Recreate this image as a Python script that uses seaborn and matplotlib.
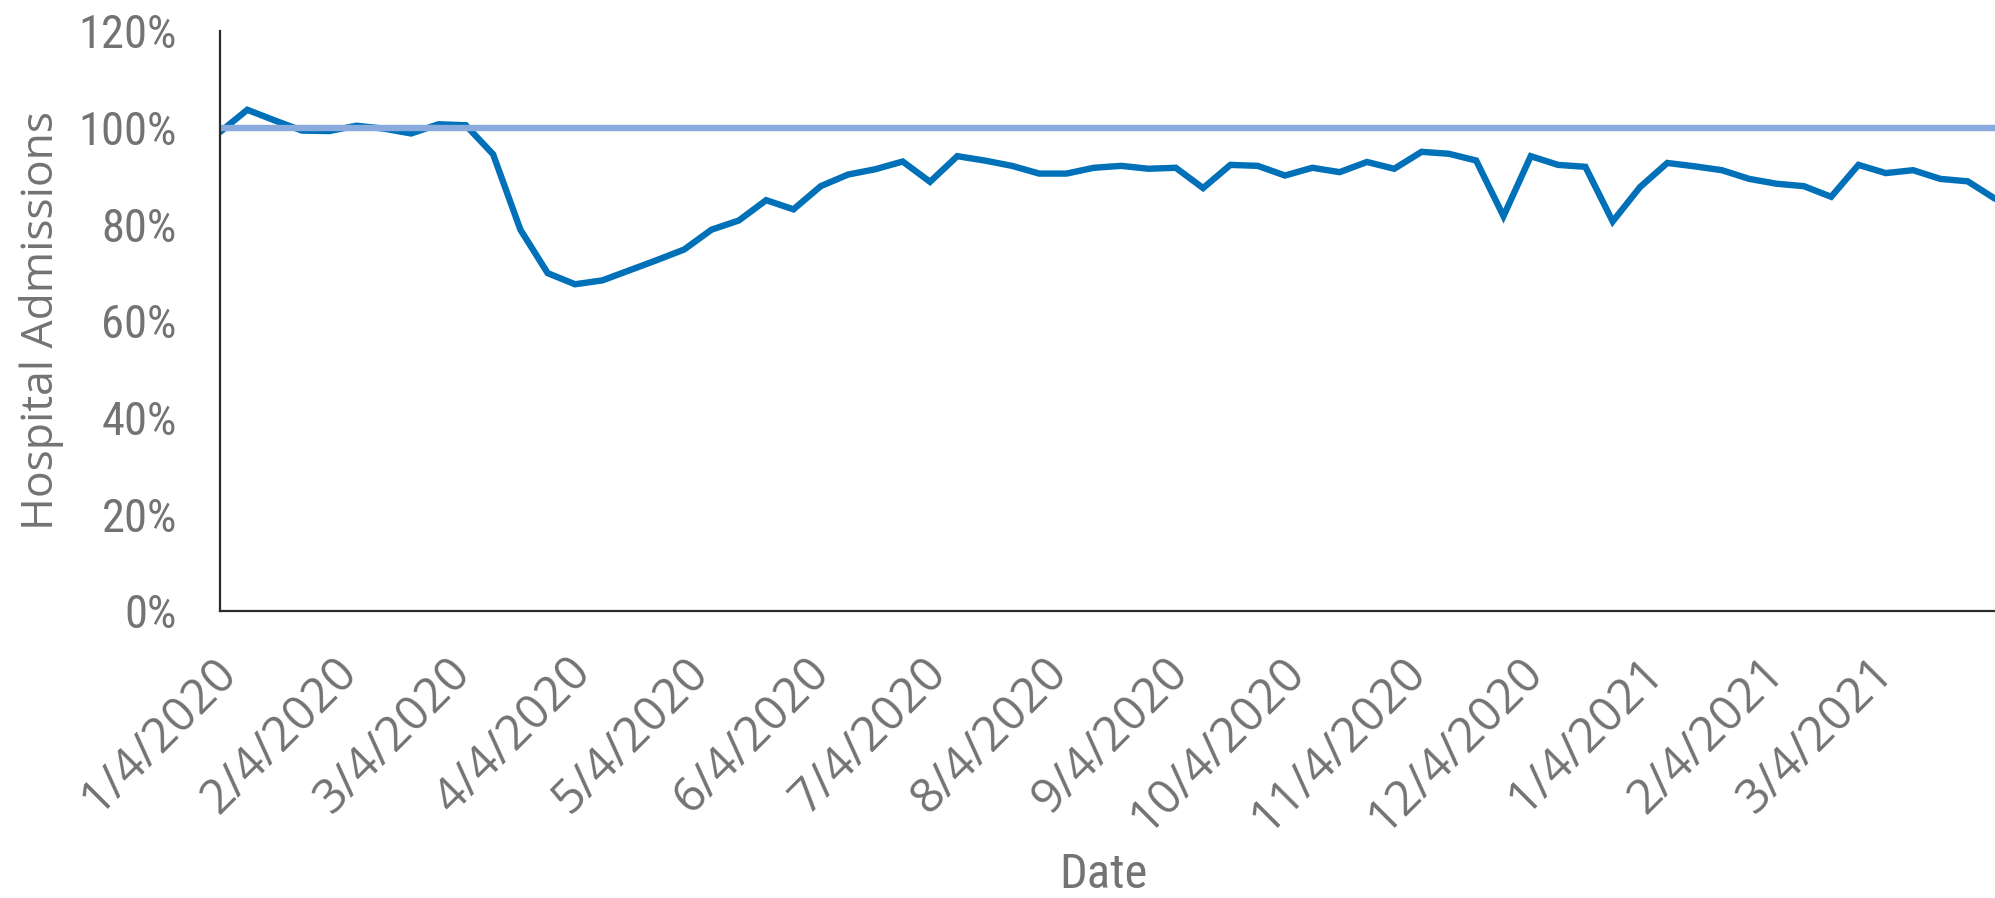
import matplotlib
matplotlib.use("Agg")
import matplotlib.pyplot as plt
from matplotlib import font_manager
from matplotlib.transforms import ScaledTranslation
import pandas as pd
import seaborn as sns

# Weekly hospital admissions relative to the pre-pandemic baseline (%)
week_start = "2020-01-04"
admissions_pct = [
    99.1, 103.7, 101.5, 99.4, 99.3, 100.4, 99.8, 98.8, 100.7, 100.5,
    94.5, 78.9, 69.9, 67.6, 68.4, 70.5, 72.6, 74.8, 78.9, 80.8,
    85.0, 83.1, 87.9, 90.3, 91.4, 93.0, 88.8, 94.1, 93.2, 92.1,
    90.5, 90.5, 91.7, 92.1, 91.5, 91.7, 87.5, 92.3, 92.1, 90.1,
    91.7, 90.8, 92.9, 91.5, 95.0, 94.6, 93.2, 81.7, 94.1, 92.3,
    91.9, 80.6, 87.7, 92.7, 92.0, 91.2, 89.4, 88.4, 87.9, 85.7,
    92.3, 90.6, 91.2, 89.4, 88.9, 85.3,
]
baseline_pct = 100
y_ticks = [0, 20, 40, 60, 80, 100, 120]
tick_dates = [
    "2020-01-04", "2020-02-04", "2020-03-04", "2020-04-04", "2020-05-04",
    "2020-06-04", "2020-07-04", "2020-08-04", "2020-09-04", "2020-10-04",
    "2020-11-04", "2020-12-04", "2021-01-04", "2021-02-04", "2021-03-04",
]
x_title = "Date"
y_title = "Hospital Admissions"

dates = pd.date_range(week_start, periods=len(admissions_pct), freq="7D")
df = pd.DataFrame({
    "date": dates,
    "admissions": admissions_pct,
    "baseline": [baseline_pct] * len(admissions_pct),
})

sns.set_theme(style="white")
plt.rcParams["font.family"] = ["Open Sans", "DejaVu Sans"]

TEXT = "#737373"

# Prefer a narrow face for the horizontal labels when one is installed
installed = {f.name for f in font_manager.fontManager.ttflist}
narrow_face = None
for cand in ("Liberation Sans Narrow", "Roboto Condensed", "DejaVu Sans Condensed",
             "Open Sans Condensed", "Noto Sans Condensed"):
    if cand in installed:
        narrow_face = cand
        break
narrow_stretch = "normal"
if narrow_face is None:
    for f in font_manager.fontManager.ttflist:
        if f.stretch in ("condensed", "semi-condensed") and f.style == "normal" \
                and f.weight in (400, "normal", "regular"):
            narrow_face = f.name
            narrow_stretch = f.stretch
            break
narrow = [narrow_face, "Open Sans", "DejaVu Sans"] if narrow_face else ["Open Sans", "DejaVu Sans"]
ytick_size = 33.5 if narrow_face else 29

fig = plt.figure(figsize=(19.95, 8.98), dpi=100)
ax = fig.add_axes([220 / 1995, 287 / 898, 1775 / 1995, 580 / 898])

sns.lineplot(data=df, x="date", y="admissions", ax=ax, color="#0070B8",
             linewidth=4.6, solid_joinstyle="miter", zorder=3)
sns.lineplot(data=df, x="date", y="baseline", ax=ax, color="#88AADC",
             linewidth=4.6, zorder=4)

ax.set_xlim(dates[0], dates[-1])
ax.set_ylim(0, 120)

ax.set_yticks(y_ticks)
ax.set_yticklabels([f"{v}%" for v in y_ticks], family=narrow, stretch=narrow_stretch,
                   fontsize=ytick_size, color=TEXT)
ax.tick_params(axis="y", length=0, pad=31)

tick_ts = pd.to_datetime(tick_dates)
ax.set_xticks(tick_ts)
ax.set_xticklabels([f"{d.month}/{d.day}/{d.year}" for d in tick_ts],
                   rotation=45, ha="right", va="center",
                   rotation_mode="anchor", fontsize=34.5, color=TEXT)
ax.tick_params(axis="x", length=0, pad=39)
# nudge the slanted date labels so their ends sit just right of each tick
shift = ScaledTranslation(9 / 100, 0, fig.dpi_scale_trans)
for lbl in ax.get_xticklabels():
    lbl.set_transform(lbl.get_transform() + shift)

ax.set_xlabel(x_title, family=narrow, stretch=narrow_stretch,
              fontsize=35 if narrow_face else 32, color=TEXT)
ax.xaxis.set_label_coords(0.4975, -0.415)
ax.set_ylabel(y_title, fontsize=32, color=TEXT)
ax.yaxis.set_label_coords(-0.088, 0.5)

for side in ("top", "right"):
    ax.spines[side].set_visible(False)
for side in ("left", "bottom"):
    ax.spines[side].set_color("#2b2b2b")
    ax.spines[side].set_linewidth(1.6)
    ax.spines[side].set_zorder(5)

ax.grid(False)
fig.savefig("out.png", dpi=100, facecolor="white")
